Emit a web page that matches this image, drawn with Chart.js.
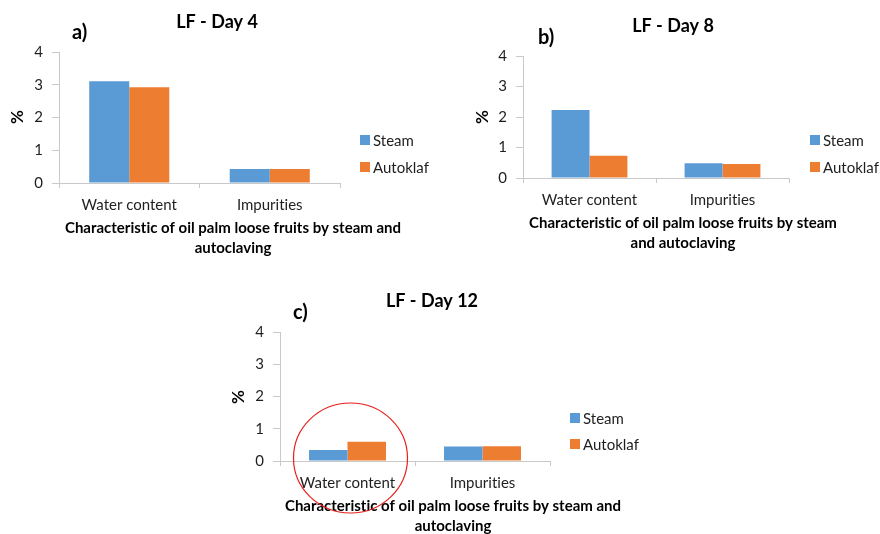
<!DOCTYPE html>
<html>
<head>
<meta charset="utf-8">
<script src="https://cdn.jsdelivr.net/npm/chart.js@4.4.1/dist/chart.umd.min.js"></script>
<style>
  html, body { margin: 0; padding: 0; background: #fff; }
  #page { position: relative; width: 880px; height: 534px; overflow: hidden; }
  canvas { position: absolute; }
</style>
</head>
<body>
<div id="page">
  <canvas id="dayA" width="440" height="260" style="left:0;top:0"></canvas>
  <canvas id="dayB" width="420" height="260" style="left:460px;top:0"></canvas>
  <canvas id="dayC" width="440" height="254" style="left:220px;top:280px"></canvas>
</div>
<script>
const categories = ['Water content', 'Impurities'];
const seriesNames = ['Steam', 'Autoklaf'];
const yTicks = [0, 1, 2, 3, 4];

const steamDay4 = [3.11, 0.43];
const autoklafDay4 = [2.92, 0.43];
const steamDay8 = [2.23, 0.48];
const autoklafDay8 = [0.73, 0.46];
const steamDay12 = [0.34, 0.45];
const autoklafDay12 = [0.60, 0.46];

const panelTitles = ['LF - Day 4', 'LF - Day 8', 'LF - Day 12'];
const panelLetters = ['a)', 'b)', 'c)'];
const xTitleLines = [
  ['Characteristic of oil palm loose fruits by steam and', 'autoclaving'],
  ['Characteristic of oil palm loose fruits by steam', 'and autoclaving'],
  ['Characteristic of oil palm loose fruits by steam and', 'autoclaving'],
];

const FONT = 'Lato, "Open Sans", sans-serif';
const BLUE = '#5b9bd5';
const ORANGE = '#ed7d31';
const AXIS = '#c9c9c9';
const TICK = '#1f1f1f';

// where things sit inside each canvas
const LAYOUT = [
  { id: 'dayA', w: 440, h: 260, area: { left: 59, top: 52, right: 340, bottom: 183 },
    title: [217, 22], letter: [72, 33], yTitle: [18, 117], xTitle: [233, 228, 248], legend: [360, 140, 167] },
  { id: 'dayB', w: 420, h: 260, area: { left: 63, top: 56, right: 329, bottom: 178 },
    title: [213, 26], letter: [78, 38], yTitle: [23, 117], xTitle: [223, 223, 243], legend: [350, 140, 167] },
  { id: 'dayC', w: 440, h: 254, area: { left: 60, top: 52, right: 330, bottom: 181 },
    title: [212, 21], letter: [73, 33], yTitle: [19, 117], xTitle: [233, 226, 246], legend: [350, 138, 164],
    circle: true },
];

const decorPlugin = {
  id: 'decor',
  beforeDraw(chart) {
    // no "ti" ligatures, like the original Calibri text
    chart.ctx.textRendering = 'optimizeSpeed';
  },
  afterDraw(chart, args, opts) {
    const { ctx } = chart;
    const L = opts.layout;
    ctx.save();
    ctx.fillStyle = '#000';
    ctx.textBaseline = 'middle';

    ctx.font = `bold 18px ${FONT}`;
    ctx.textAlign = 'center';
    ctx.fillText(opts.title, L.title[0], L.title[1]);

    ctx.font = `bold 20px ${FONT}`;
    ctx.textAlign = 'left';
    ctx.fillText(opts.letter, L.letter[0], L.letter[1]);

    ctx.save();
    ctx.translate(L.yTitle[0], L.yTitle[1]);
    ctx.rotate(-Math.PI / 2);
    ctx.font = `bold 17px ${FONT}`;
    ctx.textAlign = 'center';
    ctx.fillText('%', 0, 0);
    ctx.restore();

    ctx.font = `bold 15px ${FONT}`;
    ctx.textAlign = 'center';
    opts.xLines.forEach((line, i) => {
      ctx.fillText(line, L.xTitle[0], L.xTitle[1 + i]);
    });

    ctx.font = `15px ${FONT}`;
    ctx.textAlign = 'left';
    chart.data.datasets.forEach((ds, i) => {
      const yc = L.legend[1 + i];
      ctx.fillStyle = ds.backgroundColor;
      ctx.fillRect(L.legend[0], yc - 5, 10, 10);
      ctx.fillStyle = TICK;
      ctx.fillText(ds.label, L.legend[0] + 13, yc + 1);
    });

    if (L.circle) {
      const cx = chart.scales.x.getPixelForValue(0) + 3;
      const cy = chart.scales.y.getPixelForValue(0) - 3;
      ctx.strokeStyle = '#e8201c';
      ctx.lineWidth = 1.2;
      ctx.beginPath();
      ctx.ellipse(cx, cy, 57, 55, 0, 0, Math.PI * 2);
      ctx.stroke();
    }
    ctx.restore();
  },
};

function makePanel(idx, steam, autoklaf) {
  const L = LAYOUT[idx];
  const canvas = document.getElementById(L.id);
  return new Chart(canvas, {
    type: 'bar',
    data: {
      labels: categories,
      datasets: [
        { label: seriesNames[0], data: steam, backgroundColor: BLUE,
          categoryPercentage: 0.57, barPercentage: 1, borderWidth: 0 },
        { label: seriesNames[1], data: autoklaf, backgroundColor: ORANGE,
          categoryPercentage: 0.57, barPercentage: 1, borderWidth: 0 },
      ],
    },
    options: {
      responsive: false,
      animation: false,
      layout: {
        padding: { left: 0, top: L.area.top, right: L.w - L.area.right, bottom: 0 },
      },
      plugins: {
        legend: { display: false },
        title: { display: false },
        tooltip: { enabled: false },
        decor: {
          layout: L,
          title: panelTitles[idx],
          letter: panelLetters[idx],
          xLines: xTitleLines[idx],
        },
      },
      scales: {
        x: {
          grid: { display: true, offset: true, drawOnChartArea: false, drawTicks: true, tickLength: 5, color: AXIS },
          border: { display: true, color: AXIS, width: 1 },
          ticks: { color: TICK, font: { family: FONT, size: 15 }, padding: 8, maxRotation: 0 },
          afterFit: (s) => { s.height = L.h - L.area.bottom; },
        },
        y: {
          min: 0,
          max: 4,
          grid: { display: true, drawOnChartArea: false, drawTicks: true, tickLength: 7, color: AXIS },
          border: { display: true, color: AXIS, width: 1 },
          ticks: { color: TICK, font: { family: FONT, size: 15 }, padding: 9 },
          afterBuildTicks: (s) => { s.ticks = yTicks.map((v) => ({ value: v })); },
          afterFit: (s) => { s.width = L.area.left; },
        },
      },
    },
    plugins: [decorPlugin],
  });
}

makePanel(0, steamDay4, autoklafDay4);
makePanel(1, steamDay8, autoklafDay8);
makePanel(2, steamDay12, autoklafDay12);
</script>
</body>
</html>
